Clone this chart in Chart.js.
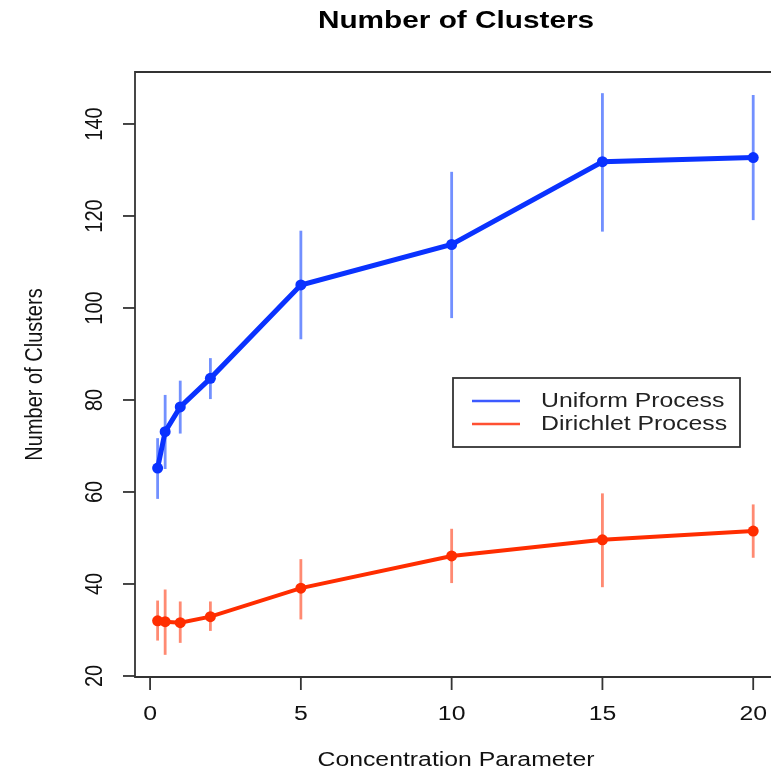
<!DOCTYPE html>
<html>
<head>
<meta charset="utf-8">
<script src="https://cdn.jsdelivr.net/npm/chart.js@4"></script>
<style>
  html, body { margin: 0; padding: 0; background: #ffffff; }
  #wrap { width: 771px; height: 772px; position: relative; }
</style>
</head>
<body>
<div id="wrap"><canvas id="c" width="771" height="772"></canvas></div>
<script>
// ---- data ----
const concentration = [0.25, 0.5, 1, 2, 5, 10, 15, 20];
const uniformMean  = [65.2, 73.1, 78.5, 84.7, 105.0, 113.8, 131.8, 132.7];
const uniformLower = [58.5, 65.0, 72.7, 80.2, 93.2, 97.8, 116.6, 119.1];
const uniformUpper = [71.7, 81.1, 84.2, 89.1, 116.8, 129.6, 146.7, 146.3];
const dirichletMean  = [32.0, 31.8, 31.6, 32.9, 39.1, 46.1, 49.6, 51.5];
const dirichletLower = [27.7, 24.6, 27.2, 29.8, 32.3, 40.2, 39.3, 45.7];
const dirichletUpper = [36.4, 38.8, 36.2, 36.2, 45.4, 52.0, 59.7, 57.3];
const xTickValues = [0, 5, 10, 15, 20];
const yTickValues = [20, 40, 60, 80, 100, 120, 140];
const seriesNames = ["Uniform Process", "Dirichlet Process"];
const chartTitle = "Number of Clusters";
const xTitle = "Concentration Parameter";
const yTitle = "Number of Clusters";

// ---- styles ----
const BLUE = "rgb(10,50,255)";
const BLUE_BAR = "rgba(20,70,255,0.6)";
const RED = "rgb(255,45,0)";
const RED_BAR = "rgba(255,60,20,0.6)";
const SX = 1.24;
const FONT = "Liberation Sans, Arial, Helvetica, sans-serif";

function pts(xs, ys) { return xs.map((x, i) => ({ x: x, y: ys[i] })); }

function stretchText(ctx, text, x, y, font, align, rotate, color) {
  ctx.save();
  ctx.translate(x, y);
  ctx.scale(SX, 1);
  if (rotate) ctx.rotate(-Math.PI / 2);
  ctx.font = font;
  ctx.fillStyle = color || "#111";
  ctx.textAlign = align || "center";
  ctx.textBaseline = "middle";
  ctx.fillText(text, 0, 0);
  ctx.restore();
}

const errorBars = {
  id: "errorBars",
  beforeDatasetsDraw(chart) {
    const ctx = chart.ctx, xs = chart.scales.x, ys = chart.scales.y;
    const sets = [[uniformLower, uniformUpper, BLUE_BAR], [dirichletLower, dirichletUpper, RED_BAR]];
    ctx.save();
    sets.forEach(([lo, hi, col]) => {
      ctx.strokeStyle = col;
      ctx.lineWidth = 2.8;
      concentration.forEach((c, i) => {
        const px = xs.getPixelForValue(c);
        ctx.beginPath();
        ctx.moveTo(px, ys.getPixelForValue(lo[i]));
        ctx.lineTo(px, ys.getPixelForValue(hi[i]));
        ctx.stroke();
      });
    });
    ctx.restore();
  }
};

const frame = {
  id: "frame",
  afterDraw(chart) {
    const ctx = chart.ctx, a = chart.chartArea, xs = chart.scales.x, ys = chart.scales.y;
    ctx.save();
    ctx.strokeStyle = "#333";
    ctx.lineWidth = 1.8;
    ctx.beginPath();
    ctx.moveTo(a.right + 10, a.top);
    ctx.lineTo(a.left, a.top);
    ctx.lineTo(a.left, a.bottom);
    ctx.lineTo(a.right + 10, a.bottom);
    ctx.stroke();
    // x ticks
    xTickValues.forEach(v => {
      const px = xs.getPixelForValue(v);
      ctx.beginPath();
      ctx.moveTo(px, a.bottom);
      ctx.lineTo(px, a.bottom + 13);
      ctx.stroke();
      stretchText(ctx, String(v), px, a.bottom + 37, "20px " + FONT, "center", false, "#111");
    });
    // y ticks
    yTickValues.forEach(v => {
      const py = ys.getPixelForValue(v);
      ctx.beginPath();
      ctx.moveTo(a.left, py);
      ctx.lineTo(a.left - 12, py);
      ctx.stroke();
      stretchText(ctx, String(v), a.left - 40, py, "20px " + FONT, "center", true, "#111");
    });
    ctx.restore();
    // titles
    const cx = (a.left + xs.getPixelForValue(20.79)) / 2;
    stretchText(ctx, chartTitle, cx, 21, "bold 24px " + FONT, "center", false, "#000");
    stretchText(ctx, xTitle, cx, 760, "20px " + FONT, "center", false, "#111");
    stretchText(ctx, yTitle, 35, (a.top + a.bottom) / 2, "20px " + FONT, "center", true, "#111");
    // legend
    ctx.save();
    ctx.fillStyle = "#fff";
    ctx.fillRect(453, 378, 287, 69);
    ctx.strokeStyle = "#333";
    ctx.lineWidth = 1.8;
    ctx.strokeRect(453, 378, 287, 69);
    const rows = [[seriesNames[0], "rgb(60,90,255)", 401], [seriesNames[1], "rgb(255,80,50)", 424]];
    rows.forEach(([name, col, y]) => {
      ctx.strokeStyle = col;
      ctx.lineWidth = 2.5;
      ctx.beginPath();
      ctx.moveTo(472, y);
      ctx.lineTo(520, y);
      ctx.stroke();
      stretchText(ctx, name, 541, y, "20px " + FONT, "left", false, "#222");
    });
    ctx.restore();
  }
};

new Chart(document.getElementById("c"), {
  type: "line",
  data: {
    datasets: [
      {
        label: seriesNames[0],
        data: pts(concentration, uniformMean),
        borderColor: BLUE, backgroundColor: BLUE,
        pointBackgroundColor: BLUE, pointBorderColor: BLUE,
        borderWidth: 5, pointRadius: 5.5, pointBorderWidth: 0, tension: 0
      },
      {
        label: seriesNames[1],
        data: pts(concentration, dirichletMean),
        borderColor: RED, backgroundColor: RED,
        pointBackgroundColor: RED, pointBorderColor: RED,
        borderWidth: 4, pointRadius: 5.5, pointBorderWidth: 0, tension: 0
      }
    ]
  },
  options: {
    responsive: false,
    animation: false,
    events: [],
    layout: { autoPadding: false, padding: { left: 135, top: 72, right: 0, bottom: 95 } },
    scales: {
      x: { type: "linear", min: -0.5, max: 20.59, display: false },
      y: { type: "linear", min: 19.78, max: 151.3, display: false }
    },
    plugins: { legend: { display: false }, title: { display: false }, tooltip: { enabled: false } }
  },
  plugins: [errorBars, frame]
});
</script>
</body>
</html>
